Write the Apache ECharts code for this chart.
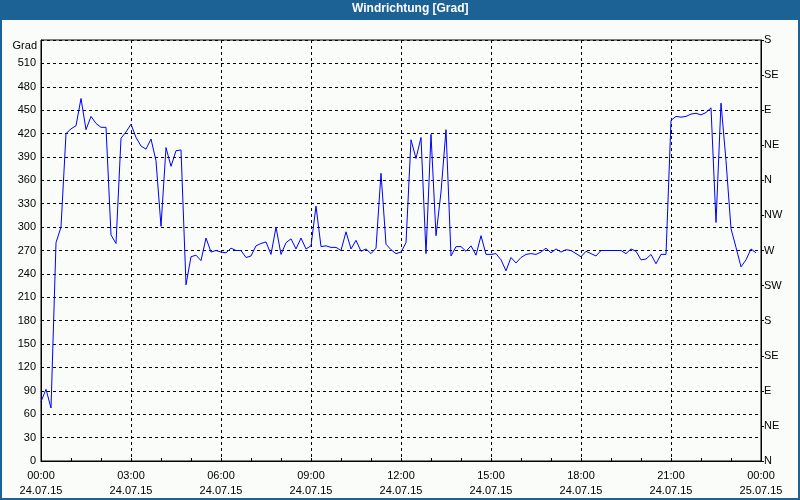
<!DOCTYPE html>
<html>
<head>
<meta charset="utf-8">
<script src="https://cdn.jsdelivr.net/npm/echarts@6/dist/echarts.min.js"></script>
<style>
  html, body { margin: 0; padding: 0; }
  #chart { width: 800px; height: 500px; }
</style>
</head>
<body>
<div id="chart"></div>
<script>
// Messwerte alle 10 Minuten, 24.07.15 00:00 .. 23:50
const stepMinutes = 10;
const windValues = [
  76, 92, 68, 280, 300, 420, 426, 430, 465, 425, 442, 433,
  428, 428, 290, 279, 414, 422, 432, 415, 404, 400, 413, 385,
  301, 402, 378, 398, 399, 226, 262, 264, 257, 286, 268, 270,
  268, 267, 273, 270, 270, 261, 263, 276, 279, 281, 265, 300,
  265, 280, 285, 272, 286, 272, 276, 327, 275, 276, 274, 274,
  270, 294, 272, 283, 269, 272, 266, 273, 369, 278, 271, 266,
  268, 280, 412, 388, 415, 266, 419, 289, 345, 425, 263, 275,
  275, 269, 276, 264, 289, 265, 265, 266, 258, 244, 261, 254,
  261, 265, 266, 265, 268, 273, 267, 272, 268, 271, 270, 266,
  262, 269, 266, 263, 270, 270, 270, 270, 270, 266, 272, 269,
  258, 259, 265, 253, 265, 265, 437, 442, 441, 442, 445, 446,
  444, 447, 453, 306, 459, 385, 298, 274, 249, 258, 272, 267
];

const timeLabels = ['00:00', '03:00', '06:00', '09:00', '12:00', '15:00', '18:00', '21:00', '00:00'];
const dateLabels = ['24.07.15', '24.07.15', '24.07.15', '24.07.15', '24.07.15', '24.07.15', '24.07.15', '24.07.15', '25.07.15'];
const dirLabels = ['N', 'NE', 'E', 'SE', 'S', 'SW', 'W', 'NW', 'N', 'NE', 'E', 'SE', 'S'];

const blue = '#1d6294';
const font = 'Liberation Sans';

const chart = echarts.init(document.getElementById('chart'), null, { renderer: 'canvas' });

chart.setOption({
  animation: false,
  backgroundColor: '#f9fcf9',
  textStyle: { fontFamily: font },
  title: {
    text: 'Windrichtung [Grad]',
    left: 352,
    top: 3,
    padding: 0,
    textStyle: {
      color: '#fff',
      fontSize: 12,
      fontWeight: 'bold',
      fontFamily: font
    }
  },
  graphic: [
    { type: 'rect', z: 0, shape: { x: 0, y: 0, width: 800, height: 20 }, style: { fill: blue } },
    { type: 'rect', z: 0, shape: { x: 1, y: 1, width: 798, height: 498 }, style: { fill: null, stroke: blue, lineWidth: 2 } },
    // Einheit oben links
    {
      type: 'text', z: 10, x: 37, y: 46,
      style: { text: 'Grad', fill: '#000', font: '11px "Liberation Sans"', align: 'right', verticalAlign: 'middle' }
    }
  ],
  grid: {
    left: 41, right: 39, top: 40, bottom: 39,
    show: true, borderColor: '#000', borderWidth: 1, backgroundColor: 'transparent'
  },
  xAxis: {
    type: 'value',
    min: 0, max: 1440, interval: 180,
    axisLine: { lineStyle: { color: '#000', width: 1 } },
    axisTick: { show: true, inside: true, length: 3, lineStyle: { color: '#000' } },
    minorTick: { show: true, splitNumber: 3, length: 3, lineStyle: { color: '#000' } },
    splitLine: { show: true, lineStyle: { color: '#000', type: [3, 3], width: 1 } },
    axisLabel: {
      color: '#000', fontSize: 11, margin: 7, lineHeight: 15,
      formatter: (v) => timeLabels[v / 180] + '\n' + dateLabels[v / 180]
    }
  },
  yAxis: [
    {
      type: 'value',
      min: 0, max: 540, interval: 30,
      axisLine: { show: true, lineStyle: { color: '#000', width: 1 } },
      axisTick: { show: false },
      splitLine: { show: true, lineStyle: { color: '#000', type: [3, 3], width: 1 } },
      axisLabel: {
        color: '#000', fontSize: 11, margin: 5,
        formatter: (v) => (v === 540 ? '' : String(v))
      }
    },
    {
      type: 'value',
      position: 'right',
      min: 0, max: 540, interval: 45,
      axisLine: { show: true, lineStyle: { color: '#000', width: 1 } },
      axisTick: { show: true, length: 3, lineStyle: { color: '#000' } },
      splitLine: { show: false },
      axisLabel: {
        color: '#000', fontSize: 11, margin: 3, padding: [2, 0, 0, 0],
        formatter: (v) => dirLabels[Math.round(v / 45)]
      }
    }
  ],
  series: [
    {
      type: 'line',
      data: windValues.map((v, i) => [i * stepMinutes, v]),
      showSymbol: false,
      symbol: 'none',
      lineStyle: { color: '#0000ff', width: 1 },
      emphasis: { disabled: true }
    }
  ]
});
</script>
</body>
</html>
